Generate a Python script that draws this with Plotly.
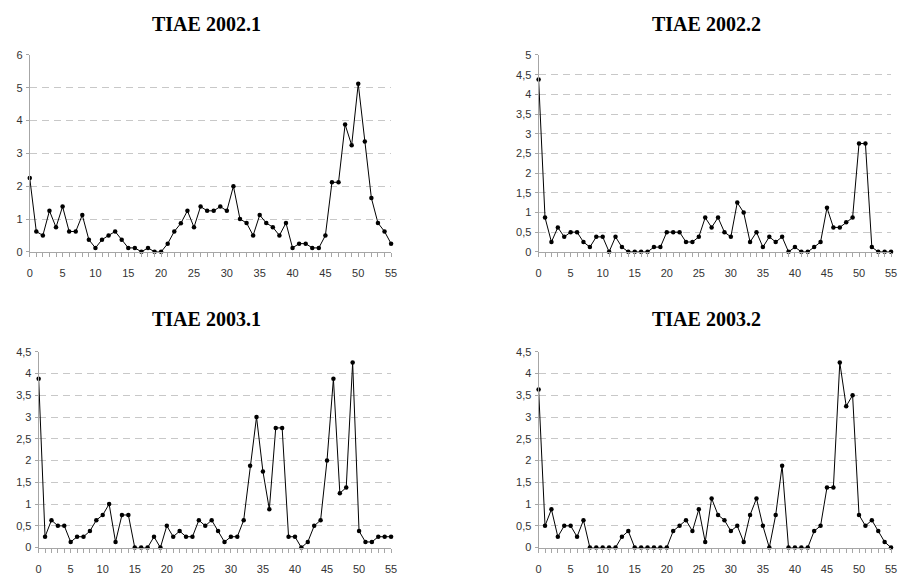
import plotly.graph_objects as go

x_vals = list(range(56))

tiae_2002_1 = [2.25, 0.62, 0.5, 1.25, 0.75, 1.38, 0.62, 0.62, 1.12, 0.37,
               0.12, 0.37, 0.5, 0.62, 0.37, 0.12, 0.12, 0.0, 0.12, 0.0,
               0.0, 0.25, 0.62, 0.87, 1.25, 0.75, 1.38, 1.25, 1.25, 1.38,
               1.25, 2.0, 1.0, 0.88, 0.5, 1.12, 0.88, 0.75, 0.5, 0.88,
               0.12, 0.25, 0.25, 0.12, 0.12, 0.5, 2.12, 2.12, 3.88, 3.25,
               5.12, 3.36, 1.64, 0.88, 0.62, 0.25]

tiae_2002_2 = [4.38, 0.87, 0.25, 0.62, 0.38, 0.5, 0.5, 0.25, 0.12, 0.38,
               0.38, 0.0, 0.38, 0.12, 0.0, 0.0, 0.0, 0.0, 0.12, 0.12,
               0.5, 0.5, 0.5, 0.25, 0.25, 0.38, 0.87, 0.62, 0.87, 0.5,
               0.38, 1.25, 1.0, 0.25, 0.5, 0.12, 0.38, 0.25, 0.38, 0.0,
               0.12, 0.0, 0.0, 0.12, 0.25, 1.12, 0.62, 0.62, 0.75, 0.87,
               2.75, 2.75, 0.12, 0.0, 0.0, 0.0]

tiae_2003_1 = [3.88, 0.25, 0.63, 0.5, 0.5, 0.13, 0.25, 0.25, 0.38, 0.63,
               0.75, 1.0, 0.13, 0.75, 0.75, 0.0, 0.0, 0.0, 0.25, 0.0,
               0.5, 0.25, 0.38, 0.25, 0.25, 0.63, 0.5, 0.63, 0.38, 0.13,
               0.25, 0.25, 0.63, 1.88, 3.0, 1.75, 0.88, 2.75, 2.75, 0.25,
               0.25, 0.0, 0.13, 0.5, 0.63, 2.0, 3.88, 1.25, 1.38, 4.25,
               0.38, 0.13, 0.13, 0.25, 0.25, 0.25]

tiae_2003_2 = [3.63, 0.5, 0.88, 0.25, 0.5, 0.5, 0.25, 0.63, 0.0, 0.0,
               0.0, 0.0, 0.0, 0.25, 0.38, 0.0, 0.0, 0.0, 0.0, 0.0,
               0.0, 0.38, 0.5, 0.63, 0.38, 0.88, 0.13, 1.13, 0.75, 0.63,
               0.38, 0.5, 0.13, 0.75, 1.13, 0.5, 0.0, 0.75, 1.88, 0.0,
               0.0, 0.0, 0.0, 0.38, 0.5, 1.38, 1.38, 4.25, 3.25, 3.5,
               0.75, 0.5, 0.63, 0.38, 0.13, 0.0]

titles = ["TIAE 2002.1", "TIAE 2002.2", "TIAE 2003.1", "TIAE 2003.2"]
series = [tiae_2002_1, tiae_2002_2, tiae_2003_1, tiae_2003_2]
y_tick_vals = [
    [0, 1, 2, 3, 4, 5, 6],
    [0, 0.5, 1, 1.5, 2, 2.5, 3, 3.5, 4, 4.5, 5],
    [0, 0.5, 1, 1.5, 2, 2.5, 3, 3.5, 4, 4.5],
    [0, 0.5, 1, 1.5, 2, 2.5, 3, 3.5, 4, 4.5],
]
x_tick_vals = [0, 5, 10, 15, 20, 25, 30, 35, 40, 45, 50, 55]

W, H = 903, 583
# plot areas in window pixels: (left, right, top, bottom)
areas = [(27, 392, 50, 251), (541, 897, 50, 251),
         (36, 392, 353, 553), (541, 897, 353, 553)]
title_pos_px = [(206, 18), (711, 18), (206, 320), (711, 320)]

def fmt(v):
    s = ("%g" % v)
    return s.replace(".", ",")

fig = go.Figure()
axis_gray = "#a6a6a6"
grid_gray = "#c8c8c8"
tick_font = dict(family="Liberation Sans, Arial, sans-serif", size=11, color="#333333")

layout = dict(
    width=W, height=H,
    margin=dict(l=0, r=0, t=0, b=0),
    paper_bgcolor="white", plot_bgcolor="white",
    showlegend=False,
    annotations=[],
)

for i, (ys, title, yt, area, tp) in enumerate(zip(series, titles, y_tick_vals, areas, title_pos_px)):
    n = "" if i == 0 else str(i + 1)
    xa = "x" + n
    ya = "y" + n
    fig.add_trace(go.Scatter(
        x=x_vals, y=ys, xaxis=xa, yaxis=ya, mode="lines+markers",
        line=dict(color="black", width=1),
        marker=dict(color="black", size=4.5),
        cliponaxis=False, hoverinfo="skip",
    ))
    l, r, t, b = area
    xdom = [l / W, r / W]
    ydom = [(H - b) / H, (H - t) / H]
    layout["xaxis" + n] = dict(
        domain=xdom, anchor=ya, range=[0, 55],
        tickmode="array", tickvals=x_tick_vals,
        ticks="outside", ticklen=4, tickcolor=axis_gray, tickwidth=1,
        minor=dict(dtick=1, tick0=0, ticks="outside", ticklen=4, tickcolor=axis_gray, tickwidth=1, showgrid=False),
        showline=True, linecolor=axis_gray, linewidth=1,
        showgrid=False, zeroline=False,
        tickfont=tick_font, ticklabelstandoff=7,
    )
    layout["yaxis" + n] = dict(
        domain=ydom, anchor=xa, range=[0, yt[-1]],
        tickmode="array", tickvals=yt, ticktext=[fmt(v) for v in yt],
        ticks="outside", ticklen=3, tickcolor=axis_gray, tickwidth=1,
        showline=True, linecolor=axis_gray, linewidth=1,
        showgrid=True, gridcolor=grid_gray, griddash="7px,5px", gridwidth=1,
        zeroline=False, tickfont=tick_font, ticklabelstandoff=1,
    )
    layout["annotations"].append(dict(
        text="<b>%s</b>" % title, xref="paper", yref="paper",
        x=tp[0] / W, y=(H - tp[1]) / H, xanchor="center", yanchor="middle",
        showarrow=False,
        font=dict(family="Liberation Serif, Times New Roman, serif", size=20, color="black"),
    ))

fig.update_layout(**layout)
# remove the default 8px body margin so the 903x583 figure fills the window exactly
fig.write_html(
    "out.html",
    config={"displayModeBar": False},
    post_script="document.body.style.margin='0';document.body.style.overflow='hidden';",
)
